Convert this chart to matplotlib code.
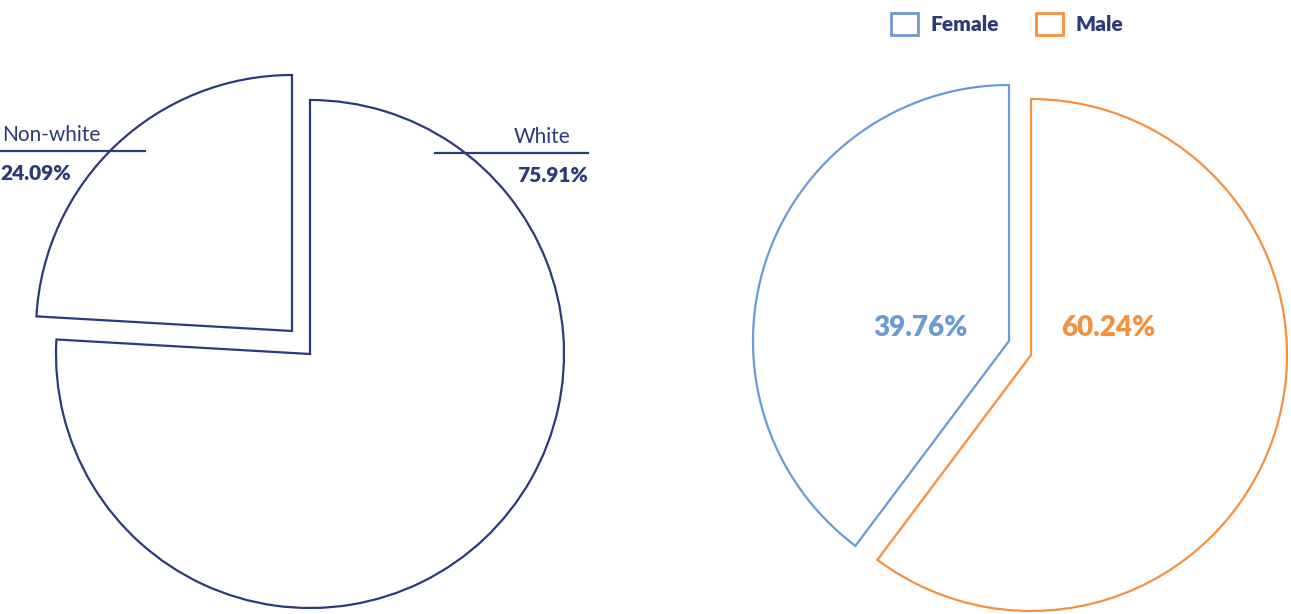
import matplotlib
matplotlib.use('Agg')
import matplotlib.pyplot as plt
from matplotlib.patches import Patch

# 数据
race_labels = ['White', 'Non-white']
race_values = [75.91, 24.09]
gender_labels = ['Male', 'Female']
gender_values = [60.24, 39.76]

navy = '#2c3a7a'
blue = '#6a9bd3'
orange = '#f5903f'

plt.rcParams['font.family'] = ['Lato', 'DejaVu Sans']

W, H = 1291, 614
fig = plt.figure(figsize=(W / 100, H / 100), dpi=100)
ax = fig.add_axes([0, 0, 1, 1])

# 左图：种族
wedges, _ = ax.pie(race_values, center=(310, 260), radius=254, startangle=90,
                   counterclock=False, frame=True,
                   wedgeprops=dict(facecolor='white', edgecolor=navy, linewidth=1.6))
wedges[1].set_center((292, 283))
wedges[1].set_radius(256)

ax.plot([0, 145], [H - 151, H - 151], color=navy, lw=1.6)
ax.text(2, H - 141, race_labels[1], color=navy, fontsize=15, va='baseline')
ax.text(0, H - 180, f"{race_values[1]:.2f}%", color=navy, fontsize=15,
        fontweight='heavy', va='baseline')
ax.plot([435, 588], [H - 153, H - 153], color=navy, lw=1.6)
ax.text(514, H - 143, race_labels[0], color=navy, fontsize=15, va='baseline')
ax.text(588, H - 182, f"{race_values[0]:.2f}%", color=navy, fontsize=15,
        fontweight='heavy', va='baseline', ha='right')

# 右图：性别
colors = [orange, blue]
wedges2, _ = ax.pie(gender_values, center=(1031, 259), radius=256, startangle=90,
                    counterclock=False, frame=True,
                    wedgeprops=dict(facecolor='white', linewidth=1.6))
for w, c in zip(wedges2, colors):
    w.set_edgecolor(c)
wedges2[1].set_center((1009, 273))

ax.text(1108, H - 336, f"{gender_values[0]:.2f}%", color=orange, fontsize=20,
        fontweight='heavy', va='baseline', ha='center')
ax.text(920, H - 336, f"{gender_values[1]:.2f}%", color=blue, fontsize=20,
        fontweight='heavy', va='baseline', ha='center')

ax.set_xlim(0, W)
ax.set_ylim(0, H)
ax.set_aspect('equal')
ax.axis('off')

handles = [Patch(facecolor='white', edgecolor=blue, linewidth=2, label=gender_labels[1]),
           Patch(facecolor='white', edgecolor=orange, linewidth=2, label=gender_labels[0])]
leg = ax.legend(handles=handles, loc='upper left', bbox_to_anchor=(876 / W, 1 + 2 / H),
                ncol=2, frameon=False, handlelength=1.3, handleheight=1.3,
                handletextpad=0.6, columnspacing=1.8, borderaxespad=0.3,
                prop=dict(family='Lato', weight='heavy', size=15))
for t in leg.get_texts():
    t.set_color(navy)

fig.savefig('out.png', dpi=100)
